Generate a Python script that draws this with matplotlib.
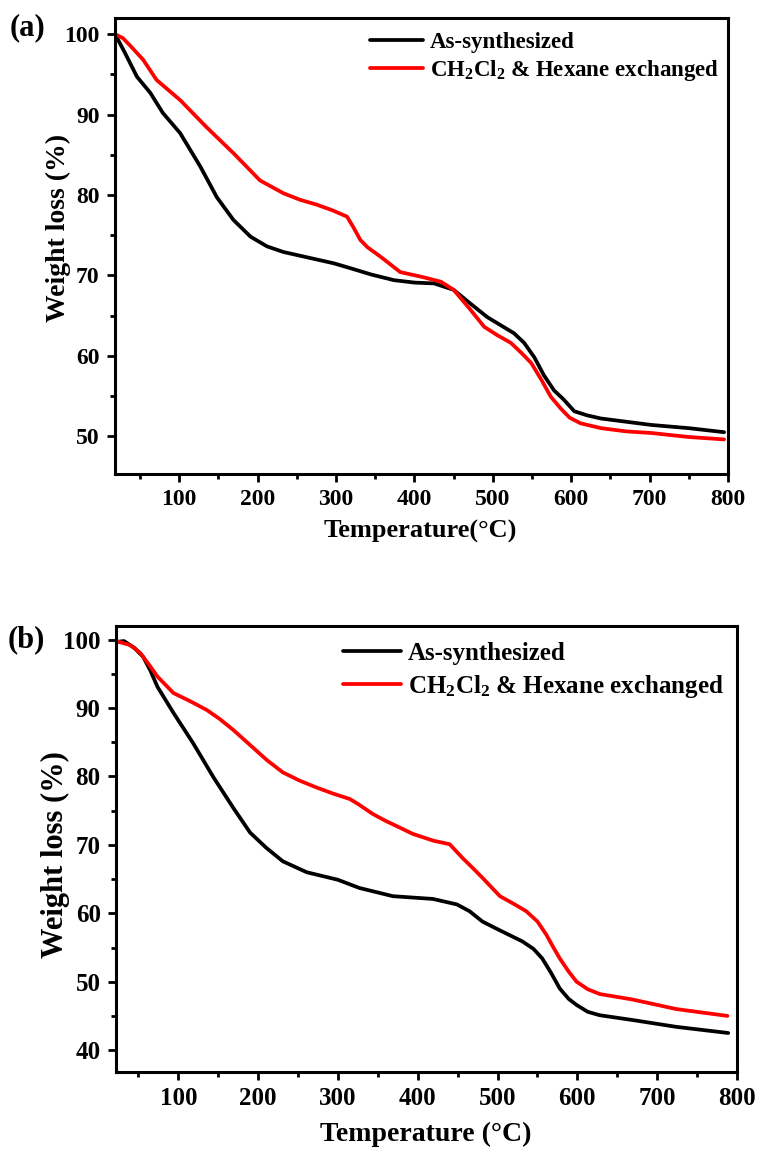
import matplotlib
matplotlib.use("Agg")
import matplotlib.pyplot as plt
from matplotlib.ticker import MultipleLocator

plt.rcParams['font.family'] = ['Liberation Serif', 'DejaVu Serif']
plt.rcParams['font.weight'] = 'bold'
plt.rcParams['mathtext.fontset'] = 'custom'
plt.rcParams['mathtext.rm'] = 'Liberation Serif:bold'
plt.rcParams['mathtext.default'] = 'rm'

# ---------------- data ----------------
label_as = "As-synthesized"
label_ex = r"CH$_2$Cl$_2$ & Hexane exchanged"

# Panel (a)
a_black_T = [18, 30, 46, 63, 79, 101, 127, 148, 169, 191, 212, 233, 265, 297, 318, 345,
             374, 400, 425, 450, 470, 493, 510, 527, 540, 553, 565, 578, 590, 604, 620,
             638, 670, 702, 750, 795]
a_black_W = [100, 97.8, 94.7, 92.7, 90.2, 87.7, 83.5, 79.7, 76.9, 74.8, 73.6, 72.9, 72.2,
             71.5, 70.9, 70.1, 69.4, 69.1, 69.0, 68.2, 66.6, 64.8, 63.8, 62.8, 61.6, 59.8,
             57.6, 55.7, 54.6, 53.1, 52.6, 52.2, 51.8, 51.4, 51.0, 50.5]
a_red_T = [18, 28, 37, 54, 71, 101, 135, 169, 203, 233, 254, 275, 295, 314, 322, 331, 340,
           357, 382, 410, 434, 450, 470, 489, 505, 523, 536, 549, 562, 574, 587, 598, 612,
           638, 670, 702, 750, 795]
a_red_W = [100, 99.5, 98.6, 96.8, 94.3, 91.8, 88.4, 85.2, 81.8, 80.2, 79.4, 78.8, 78.1,
           77.3, 76.0, 74.4, 73.5, 72.3, 70.4, 69.8, 69.2, 68.2, 65.9, 63.6, 62.6, 61.6,
           60.4, 59.1, 57.0, 54.9, 53.4, 52.3, 51.6, 51.0, 50.6, 50.4, 49.9, 49.6]

# Panel (b)
b_black_T = [25, 32, 45, 56, 65, 74, 94, 119, 144, 169, 190, 210, 231, 261, 300, 327, 369,
             419, 449, 465, 481, 503, 531, 545, 556, 567, 578, 589, 599, 613, 628, 669,
             724, 789]
b_black_W = [99.7, 99.8, 98.8, 97.5, 95.5, 93.1, 89.3, 84.8, 79.9, 75.4, 71.8, 69.6, 67.6,
             66.0, 64.9, 63.7, 62.5, 62.1, 61.3, 60.3, 58.8, 57.5, 55.9, 54.8, 53.4, 51.3,
             49.0, 47.5, 46.6, 45.6, 45.1, 44.4, 43.4, 42.5]
b_red_T = [25, 40, 52, 63, 74, 94, 115, 136, 152, 169, 190, 211, 231, 252, 273, 294, 315,
           325, 344, 360, 378, 394, 420, 440, 456, 470, 481, 503, 520, 536, 550, 561, 570,
           578, 589, 599, 613, 628, 669, 724, 788]
b_red_W = [99.7, 99.2, 98.1, 96.4, 94.6, 92.2, 91.0, 89.7, 88.4, 86.8, 84.6, 82.4, 80.6,
           79.4, 78.4, 77.5, 76.7, 76.0, 74.5, 73.5, 72.5, 71.6, 70.6, 70.1, 68.1, 66.5,
           65.2, 62.5, 61.4, 60.3, 58.8, 56.9, 55.0, 53.4, 51.5, 50.0, 48.9, 48.2, 47.4,
           46.0, 45.0]

x_ticks = [100, 200, 300, 400, 500, 600, 700, 800]
a_y_ticks = [50, 60, 70, 80, 90, 100]
b_y_ticks = [40, 50, 60, 70, 80, 90, 100]

# ---------------- figure ----------------
W, H = 759, 1150
fig = plt.figure(figsize=(W / 100, H / 100), dpi=100)


def frac(l, t, r, b):
    return [l / W, 1 - b / H, (r - l) / W, (b - t) / H]


def style(ax, fs):
    for s in ax.spines.values():
        s.set_linewidth(2.2)
    ax.xaxis.set_minor_locator(MultipleLocator(50))
    ax.yaxis.set_minor_locator(MultipleLocator(5))
    ax.tick_params(axis='both', which='major', direction='out', length=6, width=2,
                   labelsize=fs, pad=5)
    ax.tick_params(axis='both', which='minor', direction='out', length=3.5, width=2)
    ax.tick_params(top=False, right=False, which='both')
    for t in ax.get_xticklabels() + ax.get_yticklabels():
        t.set_fontweight('bold')


line_kw = dict(lw=2.7, solid_joinstyle='round', solid_capstyle='round')

# Panel (a)
ax1 = fig.add_axes(frac(115, 18, 728, 474))
ax1.plot(a_black_T, a_black_W, color='black', label=label_as, **line_kw)
ax1.plot(a_red_T, a_red_W, color='#ff0000', label=label_ex, **line_kw)
ax1.set_xlim(18, 800)
ax1.set_ylim(45.3, 102.0)
ax1.set_xticks(x_ticks)
ax1.set_yticks(a_y_ticks)
style(ax1, 17)
ax1.set_xlabel("Temperature(°C)", fontsize=19, fontweight='bold')
ax1.set_ylabel("Weight loss (%)", fontsize=20, fontweight='bold')
ax1.xaxis.set_label_coords(0.4975, -0.127)
ax1.xaxis.label.set_va('center')
ax1.yaxis.set_label_coords(-0.093, 0.539)
ax1.yaxis.label.set_va('center')
ax1.legend(loc='upper left', bbox_to_anchor=(370 / W, 1 - 32 / H),
           bbox_transform=fig.transFigure, frameon=False,
           handlelength=2.3, handletextpad=0.3, labelspacing=0.22, borderpad=0,
           borderaxespad=0, prop={'weight': 'bold', 'size': 16.5})
fig.text(10 / W, 1 - 28 / H, "(a)", fontsize=22, fontweight='bold', va='center', ha='left')

# Panel (b)
ax2 = fig.add_axes(frac(116, 626, 737, 1072))
ax2.plot(b_black_T, b_black_W, color='black', label=label_as, **line_kw)
ax2.plot(b_red_T, b_red_W, color='#ff0000', label=label_ex, **line_kw)
ax2.set_xlim(22, 800)
ax2.set_ylim(36.8, 102.0)
ax2.set_xticks(x_ticks)
ax2.set_yticks(b_y_ticks)
style(ax2, 18)
ax2.set_xlabel("Temperature (°C)", fontsize=20, fontweight='bold')
ax2.set_ylabel("Weight loss (%)", fontsize=22, fontweight='bold')
ax2.xaxis.set_label_coords(0.499, -0.141)
ax2.xaxis.label.set_va('center')
ax2.yaxis.set_label_coords(-0.098, 0.487)
ax2.yaxis.label.set_va('center')
ax2.legend(loc='upper left', bbox_to_anchor=(343 / W, 1 - 642 / H),
           bbox_transform=fig.transFigure, frameon=False,
           handlelength=2.3, handletextpad=0.3, labelspacing=0.32, borderpad=0,
           borderaxespad=0, prop={'weight': 'bold', 'size': 18})
fig.text(8 / W, 1 - 640 / H, "(b)", fontsize=22, fontweight='bold', va='center', ha='left')

fig.savefig("out.png", dpi=100)
